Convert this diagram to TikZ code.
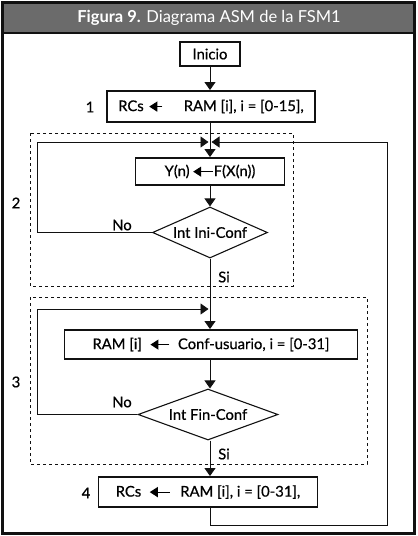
\documentclass[tikz,border=0pt]{standalone}
\usepackage{fontspec}
\setmainfont{Lato}[FakeBold=0.6]
\newfontfamily\titlefont{Lato}
\usetikzlibrary{arrows.meta,shapes.geometric,positioning}
\definecolor{figGrey}{HTML}{6B6B6B}
\definecolor{figInk}{HTML}{111111}
% inline assignment arrow inside the state boxes
\newcommand{\asg}[1]{\tikz[baseline=-0.6ex]\draw[-{Triangle[width=10pt,length=8pt]},line width=1.1pt] (#1,0) -- (0,0);}

\begin{document}
\begin{tikzpicture}[x=1pt,y=-1pt,font=\fontsize{14.8}{17}\selectfont,
  >={Triangle[width=11pt,length=8pt]},
  state/.style={draw=figInk, line width=1.9pt, inner sep=0pt, align=center},
  cond/.style={draw=figInk, diamond, aspect=2.3, line width=1.1pt, inner sep=0pt, minimum width=115pt, minimum height=51pt},
  flow/.style={draw=figInk, line width=0.9pt},
  grp/.style={draw=figInk, dashed, line width=0.8pt},
  tag/.style={font=\fontsize{14.8}{17}\selectfont},
]
\useasboundingbox (0,0) rectangle (418,536);
% ---- frame and title ----
\fill[figGrey] (2.5,2.5) rectangle (414.5,33);
\draw[figInk, line width=1.6pt] (2.5,33) -- (414.5,33);
\draw[figInk, line width=3pt] (2.5,2.5) rectangle (414.5,533.5);
\node[text=white, font=\titlefont\fontsize{16.5}{18}\selectfont] (title) at (209,18)
  {\textbf{Figura 9.} Diagrama ASM de la FSM1};
% ---- state groups ----
\draw[grp] (30,133) rectangle (293,286);
\draw[grp] (30,297) rectangle (367,464);
% ---- states ----
\node[state, minimum width=60pt, minimum height=24pt] (ini) at (210,54) {Inicio};
\node[state, minimum width=208pt, minimum height=31pt] (s1) at (211,106.5)
  {RCs\hspace{5pt}\asg{13pt}\hspace{21pt}RAM [i], i = [0-15],};
\node[state, minimum width=149pt, minimum height=27pt] (s2) at (210,171.5)
  {Y(n)\hspace{3pt}\asg{20pt}F(X(n))};
\node[cond] (c1) at (210,232.5) {Int Ini-Conf};
\node[state, minimum width=293pt, minimum height=29pt] (s3) at (211,344.5)
  {RAM [i]\hspace{8pt}\asg{19pt}\hspace{8pt}Conf-usuario, i = [0-31]};
\node[cond, minimum width=140pt] (c2) at (208,414.5) {Int Fin-Conf};
\node[state, minimum width=219pt, minimum height=30pt] (s4) at (208,492)
  {RCs\hspace{8pt}\asg{20pt}\hspace{10pt}RAM [i], i = [0-31],};
% ---- state numbers ----
\node[tag] (n1) at (90,107) {1};
\node[tag] (n2) at (16,203) {2};
\node[tag] (n3) at (16,382) {3};
\node[tag] (n4) at (86,493) {4};
% ---- junctions and corners ----
\coordinate (j1) at (210,142);
\coordinate (j2) at (210,309);
\coordinate (l1) at (37,142);
\coordinate (l2) at (37,309);
\coordinate (rb) at (387,525);
% ---- connectors ----
\draw[flow,->] (ini) -- (ini |- s1.north);
\draw[flow,->] (ini |- s1.south) -- (ini |- s2.north);
\draw[flow,->] (s2) -- (c1);
\draw[flow,->] (c1) -- (c1 |- s3.north);
\draw[flow,->] (c1 |- s3.south) -- (c1 |- c2.north);
\draw[flow,->] (c1 |- c2.south) -- (c1 |- s4.north);
\draw[flow,->,shorten >=1.5pt] (c1.west) -| (l1) -- (j1);
\draw[flow,->,shorten >=1.5pt] (c2.west) -| (l2) -- (j2);
\draw[flow,->,shorten >=1.5pt] (c1 |- s4.south) |- (rb) |- (j1);
% ---- branch labels ----
\node[tag] (no1) at (122,225) {No};
\node[tag] (si1) at (224,277) {Si};
\node[tag] (no2) at (122,402) {No};
\node[tag] (si2) at (224,454) {Si};
\end{tikzpicture}
\end{document}
